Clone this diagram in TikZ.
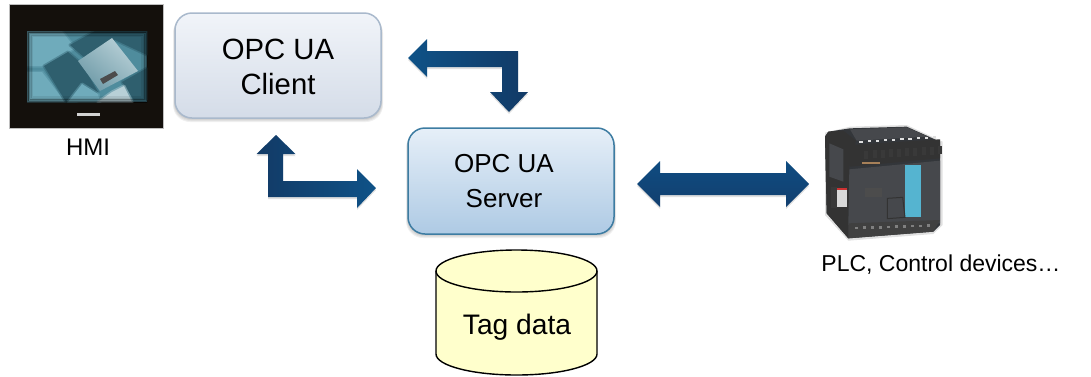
\documentclass[tikz,border=0pt]{standalone}
\usepackage{fontspec}
\setmainfont{Liberation Sans}
\definecolor{arrowdark}{HTML}{123A66}
\definecolor{arrowlight}{HTML}{0F5287}
\definecolor{arrowtop}{HTML}{0F4C81}
\definecolor{arrowbot}{HTML}{123F6F}
\definecolor{clienttop}{HTML}{F1F4F9}
\definecolor{clientbot}{HTML}{D4DCE8}
\definecolor{clientline}{HTML}{A9B9CC}
\definecolor{servertop}{HTML}{E6EFF8}
\definecolor{serverbot}{HTML}{AECAE4}
\definecolor{serverline}{HTML}{3D7CA2}
\definecolor{cyl}{HTML}{FFFFCC}
\definecolor{plcdark}{HTML}{33363A}
\definecolor{plcmid}{HTML}{46484C}
\definecolor{plcblue}{HTML}{55B4D0}
\definecolor{scrbase}{HTML}{4F8C9D}
\definecolor{scrlight}{HTML}{6FABBB}
\definecolor{scrdark}{HTML}{2F5F6E}
\definecolor{scrblock}{HTML}{B8D0D7}
\definecolor{scrblockb}{HTML}{6F9BA8}
\definecolor{hmiframe}{HTML}{14100C}
\tikzset{
  x=1pt,y=-1pt,
  boxshape/.style={rounded corners=17pt,line width=1.5pt},
  softshadow/.style={rounded corners=17pt,fill=black,fill opacity=0.06,draw=none},
  txt/.style={inner sep=0pt,align=center,text=black},
  arrowshadow/.style={fill=black,fill opacity=0.12,draw=none},
  blurfill/.style={fill=#1,draw=#1,draw opacity=0.45,line width=3pt,line join=round}
}
\begin{document}
\begin{tikzpicture}
\useasboundingbox (0,0) rectangle (1091,376);
% shadows of boxes
\foreach \d in {1,2,3,4}{
  \fill[softshadow] (175-\d/2,14+\d/2) rectangle (381+\d/2,118+\d);
  \fill[softshadow] (408-\d/2,129+\d/2) rectangle (614+\d/2,234+\d);
}
\path[boxshape,draw=clientline,top color=clienttop,bottom color=clientbot] (175,13) rectangle (381,118);
\path[boxshape,draw=serverline,top color=servertop,bottom color=serverbot] (408,128) rectangle (614,234);
\node[txt,font=\fontsize{29.3}{34.5}\selectfont] (client) at (278,67) {OPC UA\\Client};
\node[txt,font=\fontsize{26}{35}\selectfont] (server) at (504,181.5) {OPC UA\\Server};
% HMI picture
\fill[hmiframe,draw=black!25!white,line width=0.5pt] (9,4) rectangle (163,128);
\begin{scope}
  \clip (27,31) rectangle (147,102);
  \fill[scrbase] (27,31) rectangle (147,102);
  \fill[blurfill=scrlight] (27,31) -- (62,31) -- (75,48) -- (45,66) -- (27,66) -- cycle;
  \fill[blurfill=scrdark] (95,31) -- (147,31) -- (147,55) -- (115,40) -- (85,58) -- (70,45) -- cycle;
  \fill[blurfill=scrlight] (27,72) -- (42,72) -- (65,102) -- (27,102) -- cycle;
  \fill[blurfill=scrdark] (44,66) -- (68,52) -- (82,64) -- (98,92) -- (75,102) -- (66,102) -- cycle;
  \fill[blurfill=scrlight] (68,102) -- (82,84) -- (98,94) -- (100,102) -- cycle;
  \shade[top color=scrblockb,bottom color=scrblock,shading angle=140] (78,61) -- (112,38) -- (138,71) -- (100,91) -- cycle;
  \fill[blurfill=scrdark] (122,82) -- (147,68) -- (147,100) -- (134,100) -- cycle;
  \fill[blurfill=scrblock] (98,102) -- (112,92) -- (124,86) -- (132,102) -- cycle;
  \fill[black!70] (100,79) -- (115,71) -- (118,75) -- (103,84) -- cycle;
  \foreach \o/\f in {0.5/0.5,0.3/2,0.15/3.5,0.08/5}{
    \draw[black,opacity=\o,line width=2pt] (27+\f,31+\f) rectangle (147-\f,102-\f);
  }
\end{scope}
\fill[white!65!gray] (77,113) rectangle (100,116);
\node[txt,font=\fontsize{24}{28}\selectfont] (hmi) at (88,147) {HMI};
% Tag data cylinder
\path[draw=black,line width=1.4pt,fill=cyl] (436,271) -- (436,354) arc[start angle=180,end angle=360,x radius=80.5,y radius=-21] -- (597,271) arc[start angle=0,end angle=180,x radius=80.5,y radius=-21] -- cycle;
\draw[line width=1.4pt] (436,271) arc[start angle=180,end angle=360,x radius=80.5,y radius=-21];
\node[txt,font=\fontsize{28.2}{32}\selectfont] (tag) at (517,327) {Tag data};
% Arrows
\fill[arrowshadow] (276,137) -- (295.5,156) -- (283,156) -- (283,182) -- (357,182) -- (357,171) -- (376,190) -- (357,210) -- (357,199) -- (268,199) -- (268,156) -- (256.5,156) -- cycle;
\path[left color=arrowdark,right color=arrowlight] (276,135) -- (295.5,154) -- (283,154) -- (283,181) -- (357,181) -- (357,169) -- (376,188) -- (357,208) -- (357,197) -- (268,197) -- (268,154) -- (256.5,154) -- cycle;
\fill[arrowshadow] (408,60) -- (427,41) -- (427,53) -- (518,53) -- (518,94) -- (528,94) -- (509,114) -- (490,94) -- (502,94) -- (502,69) -- (427,69) -- (427,79) -- cycle;
\path[left color=arrowlight,right color=arrowdark] (408,58) -- (427,39) -- (427,51) -- (518,51) -- (518,92) -- (528,92) -- (509,112) -- (490,92) -- (502,92) -- (502,67) -- (427,67) -- (427,77) -- cycle;
\fill[arrowshadow] (637,186) -- (660,163) -- (660,175) -- (786,175) -- (786,163) -- (809,186) -- (786,209) -- (786,197) -- (660,197) -- (660,209) -- cycle;
\path[top color=arrowtop,bottom color=arrowbot] (637,184) -- (660,161) -- (660,173) -- (786,173) -- (786,161) -- (809,184) -- (786,207) -- (786,195) -- (660,195) -- (660,207) -- cycle;
% PLC picture
\begin{scope}[shift={(800,110)},scale=1/3]
  \fill[black!12] (75,68) -- (150,50) -- (320,45) -- (428,95) -- (428,345) -- (400,372) -- (145,392) -- (75,315) -- cycle;
  \fill[plcdark] (85,65) -- (150,55) -- (320,50) -- (420,95) -- (420,345) -- (400,365) -- (145,385) -- (80,310) -- (75,80) -- cycle;
  \fill[plcmid] (150,58) -- (320,52) -- (385,80) -- (170,92) -- cycle;
  \fill[black!80] (85,65) -- (130,62) -- (168,92) -- (148,170) -- (145,385) -- (80,310) -- (75,80) -- cycle;
  \fill[plcmid] (88,100) -- (130,118) -- (130,215) -- (88,200) -- cycle;
  \fill[plcmid] (148,178) -- (420,152) -- (420,340) -- (145,345) -- cycle;
  \fill[black!80] (150,105) -- (420,88) -- (420,145) -- (150,170) -- cycle;
  \foreach \i in {0,...,9}{
    \fill[white!75!gray] (178+\i*24.5,92-\i*1.5) rectangle +(10,6);
    \fill[black!55!gray] (193+\i*24.5,122-\i*1.5) rectangle +(12,24);
  }
  \fill[gray!70!orange] (185,155) rectangle (240,162);
  \fill[black!75] (145,340) -- (420,330) -- (400,365) -- (145,385) -- cycle;
  \foreach \i in {0,...,9}{
    \fill[gray] (165+\i*24,350-\i*.8) rectangle +(10,8);
  }
  \fill[plcblue] (315,165) rectangle (362,322);
  \draw[black!80,line width=1pt] (262,265) -- (308,262) -- (315,322) -- (262,326) -- cycle;
  \fill[black!70] (195,235) rectangle (245,262);
  \fill[white!70!gray] (110,235) rectangle (140,290);
  \fill[black!55!gray] (92,230) rectangle (110,295);
  \fill[red!60!gray] (110,235) rectangle (140,240);
\end{scope}
\node[txt,font=\fontsize{23}{27}\selectfont] (plc) at (941,265) {PLC, Control devices…};
\end{tikzpicture}
\end{document}
